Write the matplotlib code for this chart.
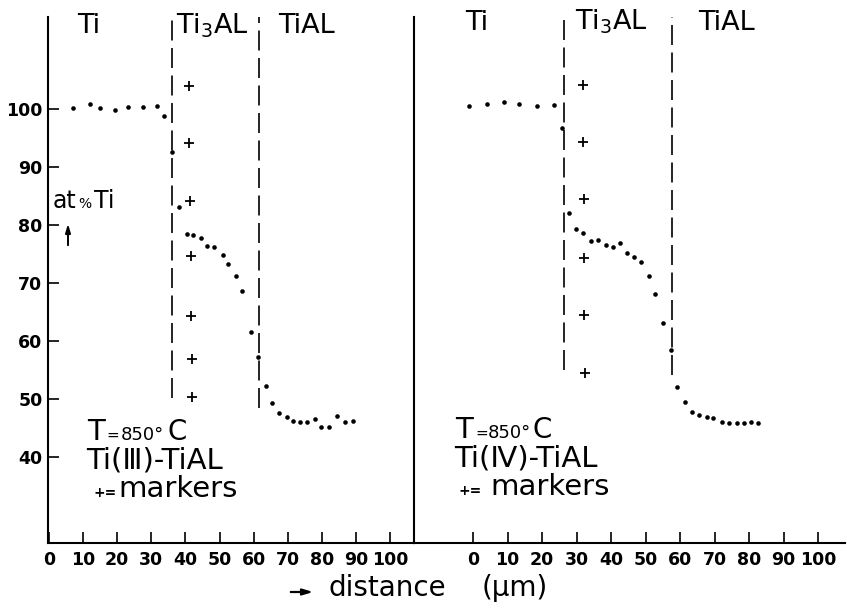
import matplotlib
matplotlib.use("Agg")
import matplotlib.pyplot as plt

# composition profiles, at% Ti versus distance (um)
left_dist = [7.1, 12.0, 15.0, 19.4, 23.2, 27.6, 31.7, 33.7, 36.1, 38.2,
             40.5, 42.3, 44.6, 46.4, 48.4, 51.0, 52.5, 54.8, 56.6,
             59.2, 61.3, 63.6, 65.4, 67.5, 69.8, 71.6, 73.6, 75.6, 78.0,
             79.7, 82.1, 84.5, 86.8, 89.2]
left_ti = [100.2, 100.9, 100.2, 99.8, 100.3, 100.3, 100.5, 98.8, 92.6, 83.1,
           78.4, 78.3, 77.8, 76.4, 76.3, 74.8, 73.3, 71.2, 68.6,
           61.6, 57.2, 52.2, 49.3, 47.6, 46.9, 46.2, 46.0, 46.0, 46.6,
           45.2, 45.2, 47.1, 46.0, 46.2]

right_dist = [-1.2, 4.1, 9.0, 13.3, 18.6, 23.5, 25.8, 27.8, 29.9, 31.9,
              34.2, 36.2, 38.6, 40.6, 42.6, 44.6, 46.7, 48.7, 51.0, 52.8,
              55.1, 57.4, 59.1, 61.4, 63.5, 65.5, 67.8, 69.6, 72.2, 74.2,
              76.5, 78.6, 80.6, 82.6]
right_ti = [100.5, 100.9, 101.2, 100.9, 100.5, 100.7, 96.7, 82.1, 79.3, 78.6,
            77.3, 77.4, 76.6, 76.2, 76.9, 75.2, 74.5, 73.6, 71.2, 68.1,
            63.1, 58.4, 52.1, 49.5, 47.8, 47.2, 46.9, 46.7, 46.0, 45.9,
            45.9, 45.9, 46.0, 45.9]

# inert marker positions
left_marker_x = [41.1, 41.1, 41.4, 41.7, 41.7, 42.0, 42.0]
left_marker_y = [104.0, 94.1, 84.1, 74.7, 64.4, 56.9, 50.3]
right_marker_x = [31.9, 31.9, 32.2, 32.2, 32.2, 32.5]
right_marker_y = [104.1, 94.3, 84.5, 74.3, 64.5, 54.5]

# phase boundaries (position, lower end of the dashed line)
left_bounds = [36.1, 61.6]
left_bound_low = [50.2, 48.4]
right_bounds = [26.4, 57.7]
right_bound_low = [55.0, 54.1]

x_ticks = [0, 10, 20, 30, 40, 50, 60, 70, 80, 90, 100]
y_ticks = [40, 50, 60, 70, 80, 90, 100]

W, H = 847, 611
YLIM = (25.2, 115.9)


def px(x, y):
    return x / W, 1 - y / H


fig = plt.figure(figsize=(W / 100, H / 100), dpi=100)
ax1 = fig.add_axes([48 / W, 1 - 543 / H, (414 - 48) / W, (543 - 17) / H])
ax2 = fig.add_axes([414 / W, 1 - 543 / H, (845 - 414) / W, (543 - 17) / H])

ax1.set_xlim(-0.3, 107.0)
ax2.set_xlim(-17.1, 107.8)

for ax, xs, ys, mx, my, bx, blo in [
        (ax1, left_dist, left_ti, left_marker_x, left_marker_y, left_bounds, left_bound_low),
        (ax2, right_dist, right_ti, right_marker_x, right_marker_y, right_bounds, right_bound_low)]:
    ax.set_ylim(*YLIM)
    ax.plot(xs, ys, "o", color="black", ms=3.3, mew=0)
    ax.plot(mx, my, "+", color="black", ms=6.5, mew=1.3)
    for b, lo in zip(bx, blo):
        ax.plot([b, b], [lo, YLIM[1]], color="black", lw=1.2,
                dashes=(12, 4.5), solid_capstyle="butt")
    for s in ["top", "right"]:
        ax.spines[s].set_visible(False)
    for s in ["left", "bottom"]:
        ax.spines[s].set_linewidth(1.5)
    ax.set_xticks(x_ticks)
    ax.set_xticklabels([str(t) for t in x_ticks], fontsize=12.5, fontweight="bold")
    ax.tick_params(axis="x", direction="in", length=8, width=1.2, pad=6)

ax1.set_yticks(y_ticks)
ax1.set_yticklabels([str(t) for t in y_ticks], fontsize=12.5, fontweight="bold")
ax1.tick_params(axis="y", direction="in", length=8, width=1.2, pad=4)
ax2.set_yticks([])

# phase names above each panel
for x, y, s in [(77, 33, "Ti"), (176, 33, "Ti$_3$AL"), (278, 33, "TiAL"),
                (465, 30, "Ti"), (575, 30, "Ti$_3$AL"), (698, 30, "TiAL")]:
    fig.text(*px(x, y), s, fontsize=19.5, va="baseline", ha="left")

# y axis caption with arrow
fig.text(*px(53, 208), "at", fontsize=17, va="baseline")
fig.text(*px(78, 208), "%", fontsize=10, va="baseline")
fig.text(*px(94, 208), "Ti", fontsize=17, va="baseline")
fig.add_artist(plt.Annotation("", xy=px(68, 221), xytext=px(68, 248),
                              xycoords="figure fraction", textcoords="figure fraction",
                              arrowprops=dict(arrowstyle="-|>,head_width=0.15,head_length=0.5",
                                              color="black", lw=1.4)))

# condition notes in each panel: x of "T", "=", "850°", "C", "markers"
notes = [
    (87, 440, "\u2162", [87, 106, 121, 167, 118], 93),
    (455, 438, "\u2163", [455, 475, 488, 532, 490], 458),
]
for x0, y0, roman, xs, xplus in notes:
    fig.text(*px(xs[0], y0), "T", fontsize=21, va="baseline")
    fig.text(*px(xs[1], y0), "=", fontsize=11, va="baseline")
    fig.text(*px(xs[2], y0), "850\u00b0", fontsize=13, va="baseline")
    fig.text(*px(xs[3], y0), "C", fontsize=20, va="baseline")
    fig.text(*px(x0 - 1, y0 + 28), "Ti(" + roman + ")-TiAL", fontsize=21, va="baseline")
    fig.text(*px(xplus, y0 + 57), "+=", fontsize=10, fontweight="bold", va="baseline")
    fig.text(*px(xs[4], y0 + 57), "markers", fontsize=21, va="baseline")

# distance axis caption
fig.add_artist(plt.Annotation("", xy=px(316, 592), xytext=px(288, 592),
                              xycoords="figure fraction", textcoords="figure fraction",
                              arrowprops=dict(arrowstyle="-|>,head_width=0.18,head_length=0.6",
                                              color="black", lw=1.6)))
fig.text(*px(328, 596), "distance", fontsize=20, va="baseline")
fig.text(*px(482, 596), "(\u00b5m)", fontsize=20, va="baseline")

fig.savefig("out.png", dpi=100)
